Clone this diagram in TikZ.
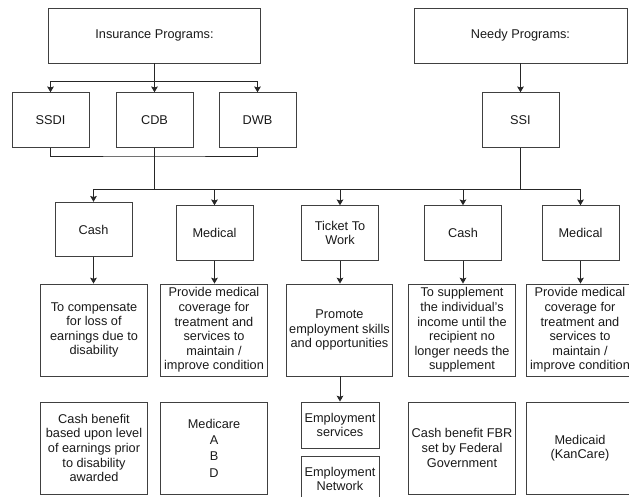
\documentclass[tikz,border=0pt]{standalone}
\usepackage{fontspec}
\setmainfont{Liberation Sans}
\usetikzlibrary{arrows.meta}
\begin{document}
\begin{tikzpicture}[x=0.02cm, y=-0.02cm, >={Stealth[length=3.3pt, width=3.8pt, inset=0.6pt]}, line width=0.5pt, draw=black!85,
    box/.style={rectangle, draw=black!75, line width=0.55pt, align=center, inner sep=0pt, text=black!90,
        font=\fontsize{7.25}{8.3}\selectfont},
    prog/.style={box, minimum width=4.26cm, minimum height=1.1cm},
    kind/.style={box, minimum width=1.54cm, minimum height=1.09cm},
    desc/.style={box, minimum width=2.13cm, minimum height=1.84cm},
    empl/.style={box, minimum width=1.56cm, minimum height=0.92cm}]
    \useasboundingbox (0,0) rectangle (629,497);
    % top level
    \node[prog] (ins) at (154.5,35.5) {Insurance Programs:};
    \node[prog] (needy) at (520.5,35.5) {Needy Programs:};
    \node[kind] (ssdi) at (50.5,120) {SSDI};
    \node[kind] (cdb) at (154.5,120) {CDB};
    \node[kind] (dwb) at (257.5,120) {DWB};
    \node[kind] (ssi) at (520.5,120) {SSI};
    % benefit types
    \node[kind] (cash1) at (93.5,229.5) {Cash};
    \node[kind] (med1) at (214.5,233) {Medical};
    \node[kind] (ttw) at (340,233) {Ticket To\\Work};
    \node[kind] (cash2) at (463,233) {Cash};
    \node[kind] (med2) at (580.5,233) {Medical};
    % purposes
    \node[desc] (comp) at (94,330) {To compensate\\for loss of\\earnings due to\\disability};
    \node[desc] (cover1) at (214,330) {Provide medical\\coverage for\\treatment and\\services to\\maintain /\\improve condition};
    \node[desc] (promo) at (339.5,330) {Promote\\employment skills\\and opportunities};
    \node[desc] (suppl) at (462,330) {To supplement\\the individual's\\income until the\\recipient no\\longer needs the\\supplement};
    \node[desc] (cover2) at (580,330) {Provide medical\\coverage for\\treatment and\\services to\\maintain /\\improve condition};
    % what is paid
    \node[desc] (cashben) at (94,448) {Cash benefit\\based upon level\\of earnings prior\\to disability\\awarded};
    \node[desc] (mcare) at (214,448) {Medicare\\[1pt]A\\[1pt]B\\[1pt]D};
    \node[empl] (esvc) at (340,425) {Employment\\services};
    \node[empl] (enet) at (340,479) {Employment\\Network};
    \node[desc] (fbr) at (462,448) {Cash benefit FBR\\set by Federal\\Government};
    \node[desc] (mcaid) at (580,448) {Medicaid\\(KanCare)};

    \coordinate (ibus) at (154.5,81);
    \coordinate (join) at (154.5,156);
    \coordinate (bus) at (154.5,189);
    \draw (ins) -- (ibus);
    \draw[->] (ibus) -| (ssdi);
    \draw[->] (ibus) -- (cdb);
    \draw[->] (ibus) -| (dwb);
    \draw (ssdi) |- (join) -| (dwb);
    \draw (cdb) -- (bus);
    \draw[->] (needy) -- (ssi);
    \draw (ssi) -- (ssi |- bus);
    \draw[->] (bus) -| (cash1);
    \draw[->] (bus) -| (med1);
    \draw[->] (bus) -| (ttw);
    \draw[->] (bus) -| (cash2);
    \draw[->] (bus) -| (med2);
    \draw[->] (cash1.south) -- (cash1.south |- comp.north);
    \draw[->] (med1.south) -- (med1.south |- cover1.north);
    \draw[->] (ttw.south) -- (ttw.south |- promo.north);
    \draw[->] (cash2.south) -- (cash2.south |- suppl.north);
    \draw[->] (med2.south) -- (med2.south |- cover2.north);
    \draw[->] (promo.south -| esvc) -- (esvc);
\end{tikzpicture}
\end{document}
